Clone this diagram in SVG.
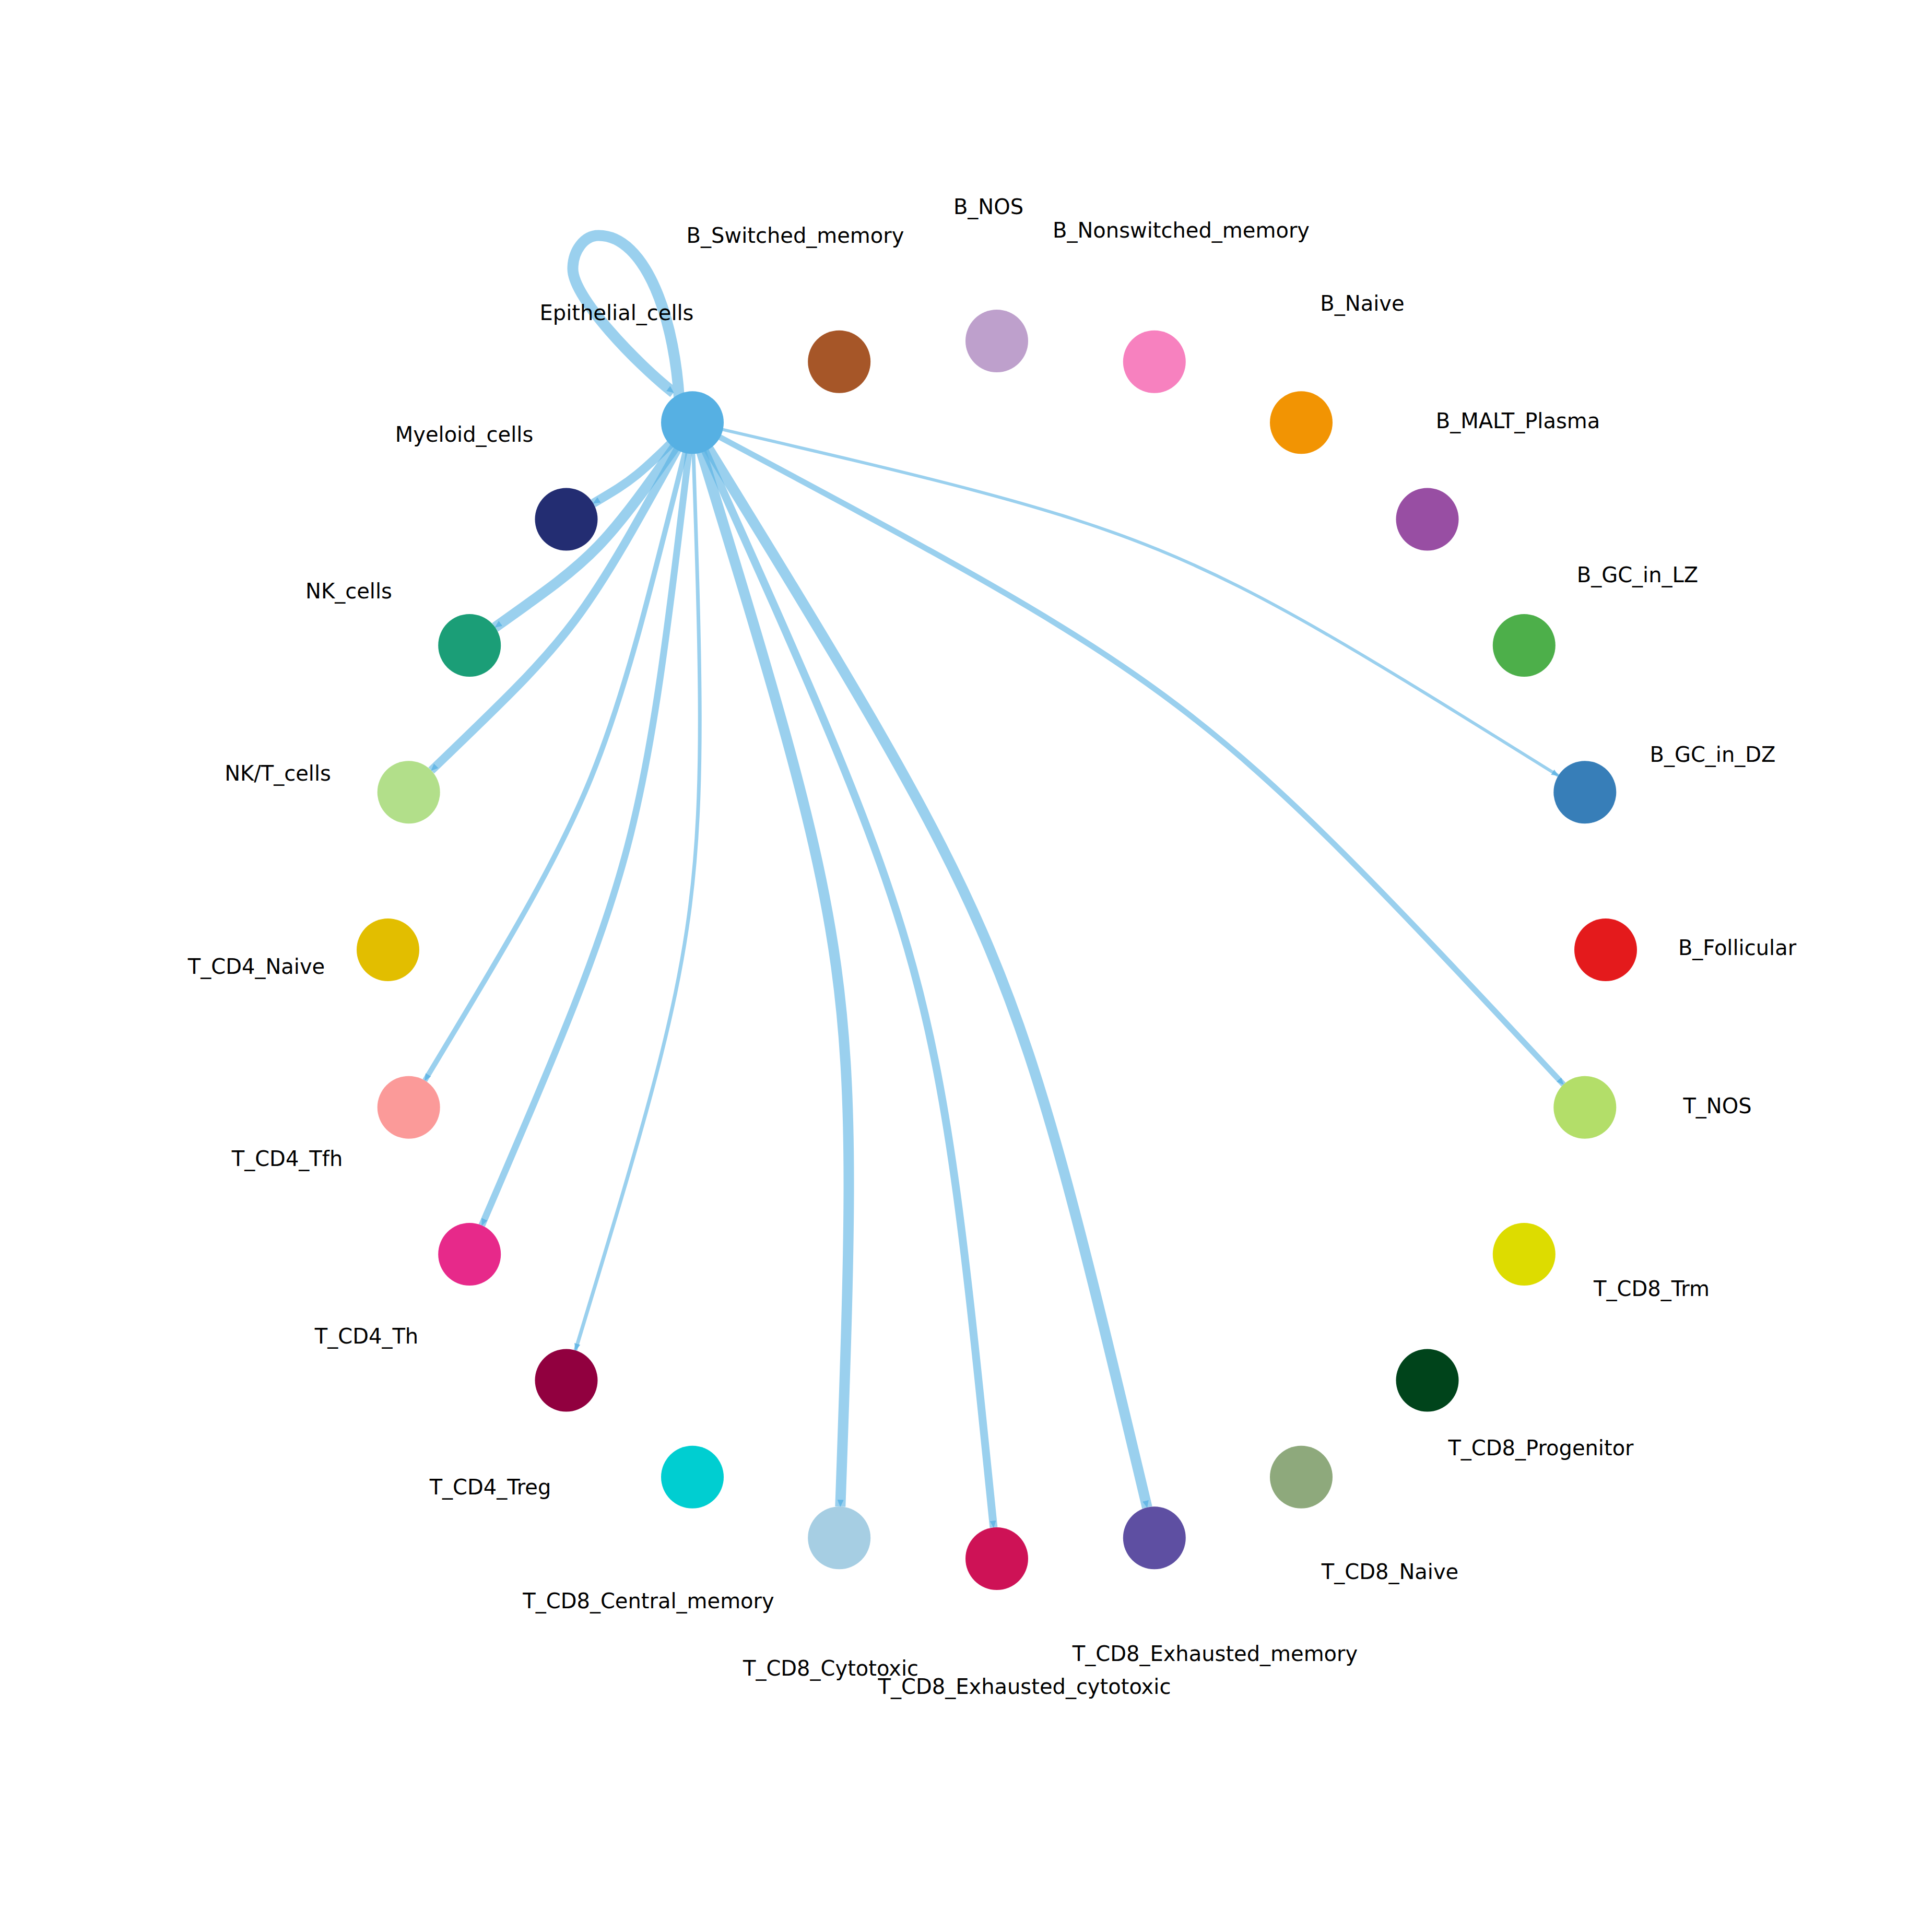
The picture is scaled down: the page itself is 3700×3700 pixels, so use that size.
<svg xmlns="http://www.w3.org/2000/svg" width="3700" height="3700" viewBox="0 0 3700 3700">
<style>
.e{fill:none;stroke:#56B0E3;stroke-opacity:0.6;stroke-linecap:butt;marker-end:url(#ah)}
text{font-family:"DejaVu Sans","Liberation Sans",sans-serif;font-size:40px;fill:#000;text-anchor:middle}
</style>
<defs>
<marker id="ah" viewBox="0 0 14 12" refX="13" refY="6" markerWidth="14" markerHeight="12" markerUnits="userSpaceOnUse" orient="auto">
<path d="M0,0 L14,6 L0,12 z" fill="#56B0E3" fill-opacity="0.75"/>
</marker>
</defs>
<rect x="0" y="0" width="3700" height="3700" fill="#ffffff"/>
<g id="edges">
<path class="e" stroke-width="21" d="M1302,790 C1296,610 1235,450 1146,451 C1119,451 1097,479.7 1097,515 C1097,570 1220,697 1290,752"/>
<path class="e" stroke-width="17" d="M1326,809.2 C1216.4,916.4 1216.4,916.4 1136.1,963.9"/>
<path class="e" stroke-width="20" d="M1326,809.2 C1148.9,1058.9 1148.9,1058.9 948.1,1201.3"/>
<path class="e" stroke-width="16" d="M1326,809.2 C1108.2,1204.5 1108.2,1204.5 826,1475.6"/>
<path class="e" stroke-width="10" d="M1326,809.2 C1152.7,1505.7 1152.7,1505.7 813.6,2069.4"/>
<path class="e" stroke-width="13" d="M1326,809.2 C1227.3,1636.3 1227.3,1636.3 922.8,2346.8"/>
<path class="e" stroke-width="7" d="M1326,809.2 C1357.5,1746.4 1357.5,1746.4 1102,2586.1"/>
<path class="e" stroke-width="20" d="M1326,809.2 C1646,1853.6 1646,1853.6 1609.3,2885.3"/>
<path class="e" stroke-width="15" d="M1326,809.2 C1793.7,1849.9 1793.7,1849.9 1902.9,2925.3"/>
<path class="e" stroke-width="20" d="M1326,809.2 C1939.3,1806.5 1939.3,1806.5 2196.9,2886.9"/>
<path class="e" stroke-width="11" d="M1326,809.2 C2289.5,1323.1 2289.5,1323.1 2994.3,2077"/>
<path class="e" stroke-width="6" d="M1326,809.2 C2239.4,1021.3 2239.4,1021.3 2984.4,1485.5"/>
</g>
<g id="n-Epithelial_cells"><circle cx="1326" cy="809.2" r="60" fill="#56B0E3"/><text x="1181" y="613">Epithelial_cells</text></g>
<g id="n-B_Switched_memory"><circle cx="1607.2" cy="692.7" r="60" fill="#A65628"/><text x="1523" y="465">B_Switched_memory</text></g>
<g id="n-B_NOS"><circle cx="1909" cy="653" r="60" fill="#BEA0CC"/><text x="1893" y="410">B_NOS</text></g>
<g id="n-B_Nonswitched_memory"><circle cx="2210.8" cy="692.7" r="60" fill="#F781BF"/><text x="2262" y="455">B_Nonswitched_memory</text></g>
<g id="n-B_Naive"><circle cx="2492" cy="809.2" r="60" fill="#F29403"/><text x="2609" y="595">B_Naive</text></g>
<g id="n-B_MALT_Plasma"><circle cx="2733.5" cy="994.5" r="60" fill="#984EA3"/><text x="2907" y="820">B_MALT_Plasma</text></g>
<g id="n-B_GC_in_LZ"><circle cx="2918.8" cy="1236" r="60" fill="#4DAF4A"/><text x="3136" y="1115">B_GC_in_LZ</text></g>
<g id="n-B_GC_in_DZ"><circle cx="3035.3" cy="1517.2" r="60" fill="#377EB8"/><text x="3280" y="1459">B_GC_in_DZ</text></g>
<g id="n-B_Follicular"><circle cx="3075" cy="1819" r="60" fill="#E41A1C"/><text x="3327" y="1829">B_Follicular</text></g>
<g id="n-T_NOS"><circle cx="3035.3" cy="2120.8" r="60" fill="#B3DE69"/><text x="3289" y="2132">T_NOS</text></g>
<g id="n-T_CD8_Trm"><circle cx="2918.8" cy="2402" r="60" fill="#DDDC00"/><text x="3163" y="2482">T_CD8_Trm</text></g>
<g id="n-T_CD8_Progenitor"><circle cx="2733.5" cy="2643.5" r="60" fill="#00441B"/><text x="2951" y="2787">T_CD8_Progenitor</text></g>
<g id="n-T_CD8_Naive"><circle cx="2492" cy="2828.8" r="60" fill="#8EA97C"/><text x="2662" y="3024">T_CD8_Naive</text></g>
<g id="n-T_CD8_Exhausted_memory"><circle cx="2210.8" cy="2945.3" r="60" fill="#5E4FA2"/><text x="2327" y="3181">T_CD8_Exhausted_memory</text></g>
<g id="n-T_CD8_Exhausted_cytotoxic"><circle cx="1909" cy="2985" r="60" fill="#CE1256"/><text x="1962" y="3244">T_CD8_Exhausted_cytotoxic</text></g>
<g id="n-T_CD8_Cytotoxic"><circle cx="1607.2" cy="2945.3" r="60" fill="#A6CEE3"/><text x="1591" y="3209">T_CD8_Cytotoxic</text></g>
<g id="n-T_CD8_Central_memory"><circle cx="1326" cy="2828.8" r="60" fill="#00CED1"/><text x="1242" y="3080">T_CD8_Central_memory</text></g>
<g id="n-T_CD4_Treg"><circle cx="1084.5" cy="2643.5" r="60" fill="#91003F"/><text x="939" y="2862">T_CD4_Treg</text></g>
<g id="n-T_CD4_Th"><circle cx="899.2" cy="2402" r="60" fill="#E7298A"/><text x="702" y="2573">T_CD4_Th</text></g>
<g id="n-T_CD4_Tfh"><circle cx="782.7" cy="2120.8" r="60" fill="#FB9A99"/><text x="550" y="2233">T_CD4_Tfh</text></g>
<g id="n-T_CD4_Naive"><circle cx="743" cy="1819" r="60" fill="#E2BE00"/><text x="491" y="1865">T_CD4_Naive</text></g>
<g id="n-NK_T_cells"><circle cx="782.7" cy="1517.2" r="60" fill="#B2DF8A"/><text x="532" y="1495">NK/T_cells</text></g>
<g id="n-NK_cells"><circle cx="899.2" cy="1236" r="60" fill="#1B9E77"/><text x="668" y="1146">NK_cells</text></g>
<g id="n-Myeloid_cells"><circle cx="1084.5" cy="994.5" r="60" fill="#232D72"/><text x="889" y="846">Myeloid_cells</text></g>
</svg>
